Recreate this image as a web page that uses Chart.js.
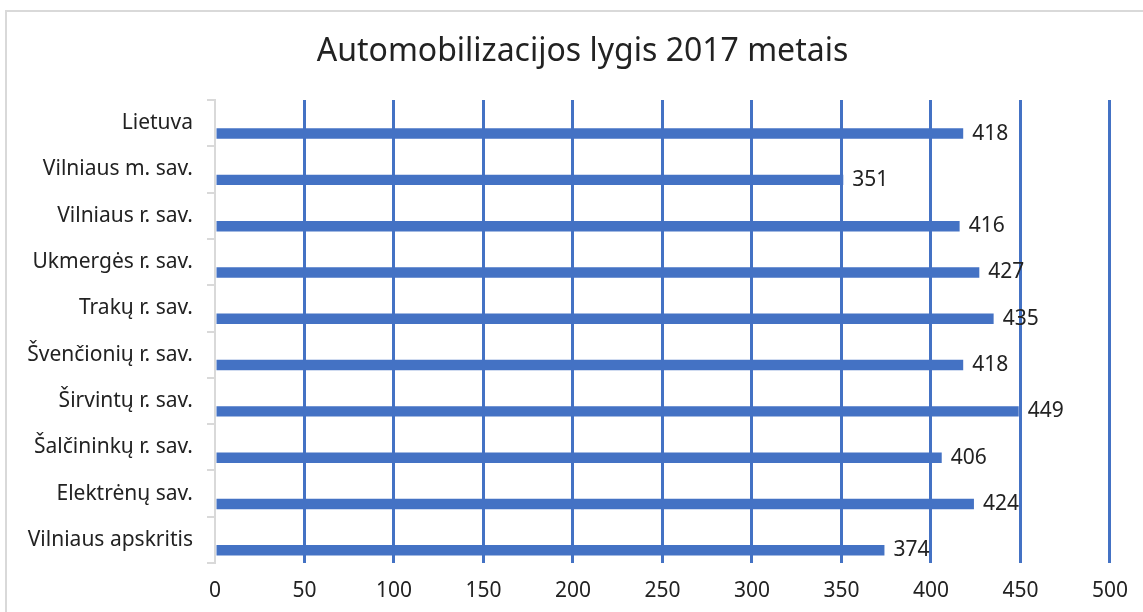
<!DOCTYPE html>
<html>
<head>
    <title>Automobilizacijos lygis 2017 metais</title>
    <script src="https://cdn.jsdelivr.net/npm/chart.js"></script>
    <style>
        body {
            margin: 0;
            background: #fff;
        }
        .wrap {
            position: relative;
            width: 1143px;
            height: 612px;
        }
        .frame {
            position: absolute;
            left: 5px;
            top: 10px;
            width: 1200px;
            height: 700px;
            border-left: 2px solid #d9d9d9;
            border-top: 2px solid #d9d9d9;
        }
        canvas {
            position: absolute;
            left: 0;
            top: 0;
        }
    </style>
</head>
<body>
    <div class="wrap">
        <div class="frame"></div>
        <canvas id="carChart"></canvas>
    </div>

    <script>
        const chartTitle = 'Automobilizacijos lygis 2017 metais';
        const regions = [
            'Lietuva',
            'Vilniaus m. sav.',
            'Vilniaus r. sav.',
            'Ukmergės r. sav.',
            'Trakų r. sav.',
            'Švenčionių r. sav.',
            'Širvintų r. sav.',
            'Šalčininkų r. sav.',
            'Elektrėnų sav.',
            'Vilniaus apskritis'
        ];
        const carsPer1000 = [418, 351, 416, 427, 435, 418, 449, 406, 424, 374];
        const xTicks = [0, 50, 100, 150, 200, 250, 300, 350, 400, 450, 500];

        const blue = '#4472C4';
        const grey = '#d9d9d9';
        const textColor = '#222';
        const font = 'Noto Sans';

        // the original title is centred on a frame wider than the picture,
        // so it sits a bit right of the canvas middle
        const titleText = {
            id: 'titleText',
            afterDraw(chart) {
                const ctx = chart.ctx;
                ctx.save();
                ctx.font = '32px "' + font + '"';
                ctx.fillStyle = textColor;
                ctx.textAlign = 'center';
                ctx.textBaseline = 'middle';
                ctx.fillText(chartTitle, chart.width / 2 + 11, 52);
                ctx.restore();
            }
        };

        // writes the value just right of each bar
        const valueLabels = {
            id: 'valueLabels',
            afterDatasetsDraw(chart) {
                const ctx = chart.ctx;
                const meta = chart.getDatasetMeta(1);
                ctx.save();
                ctx.font = '21px "' + font + '"';
                ctx.fillStyle = textColor;
                ctx.textAlign = 'left';
                ctx.textBaseline = 'middle';
                meta.data.forEach((bar, i) => {
                    ctx.fillText(carsPer1000[i], bar.x + 9, bar.y);
                });
                ctx.restore();
            }
        };

        const ctx = document.getElementById('carChart').getContext('2d');
        new Chart(ctx, {
            type: 'bar',
            data: {
                labels: regions,
                datasets: [
                    {
                        // empty slot so the bar sits low in its band, like the original
                        label: '',
                        data: regions.map(() => null),
                        backgroundColor: blue
                    },
                    {
                        label: 'Automobilizacijos lygis',
                        data: carsPer1000,
                        backgroundColor: blue
                    }
                ]
            },
            options: {
                indexAxis: 'y',
                responsive: true,
                maintainAspectRatio: false,
                animation: false,
                datasets: {
                    bar: {
                        categoryPercentage: 0.9,
                        barPercentage: 0.5
                    }
                },
                layout: {
                    padding: { left: 0, right: 33, top: 100, bottom: 0 }
                },
                plugins: {
                    legend: { display: false },
                    tooltip: { enabled: false },
                    title: { display: false }
                },
                scales: {
                    x: {
                        min: 0,
                        max: 500,
                        afterBuildTicks: scale => {
                            scale.ticks = xTicks.map(v => ({ value: v }));
                        },
                        afterFit: scale => {
                            scale.height = 49;
                        },
                        grid: {
                            color: c => c.index === 0 ? 'rgba(0,0,0,0)' : blue,
                            lineWidth: 3,
                            drawTicks: false
                        },
                        border: { display: false },
                        ticks: {
                            color: textColor,
                            font: { family: font, size: 21 },
                            padding: 15
                        }
                    },
                    y: {
                        afterFit: scale => {
                            scale.width = 215;
                        },
                        grid: {
                            drawOnChartArea: false,
                            color: grey,
                            lineWidth: 2,
                            tickLength: 8,
                            offset: true
                        },
                        border: { color: grey, width: 2 },
                        ticks: {
                            color: textColor,
                            font: { family: font, size: 21 },
                            padding: 14
                        }
                    }
                }
            },
            plugins: [valueLabels, titleText]
        });
    </script>
</body>
</html>
